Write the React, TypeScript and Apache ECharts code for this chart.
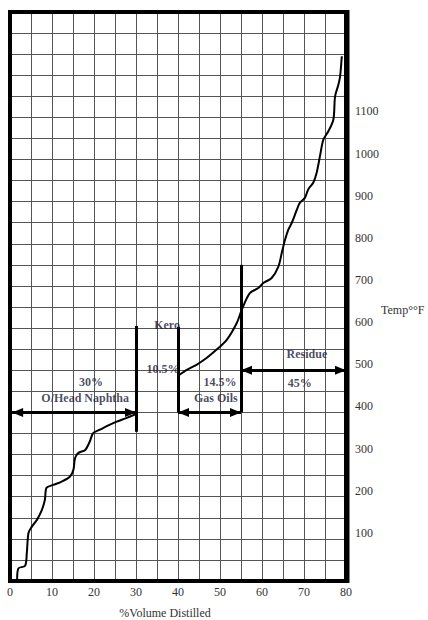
import React, { useEffect, useRef } from 'react';
import * as echarts from 'echarts';

// Distillation curve, naphtha part (x: % volume distilled, y: temperature °F)
const curve1X = [1.7, 2.0, 3.6, 4.0, 4.4, 5.2, 6.4, 7.6, 8.3, 8.7, 10.3, 12.3, 14.3, 15.1, 15.5, 16.3, 17.9, 19.0, 19.8, 21.4, 23.8, 25.4, 27.5, 30.0];
const curve1Y = [5, 30, 36, 66, 114, 129, 145, 169, 192, 221, 228, 236, 248, 264, 292, 304, 311, 331, 351, 359, 371, 378, 386, 396];
// Distillation curve, kero / gas oil / residue part
const curve2X = [40.3, 42.1, 44.4, 46.8, 49.2, 51.6, 54.0, 55.2, 57.1, 59.1, 60.3, 62.3, 63.9, 64.7, 65.5, 66.3, 67.1, 68.3, 69.0, 70.2, 71.0, 72.2, 73.0, 73.8, 74.6, 75.8, 77.0, 77.4, 78.2, 78.6, 79.0];
const curve2Y = [489, 501, 513, 529, 549, 572, 612, 644, 683, 695, 707, 719, 746, 778, 810, 834, 850, 881, 897, 909, 929, 945, 968, 1008, 1047, 1067, 1095, 1150, 1178, 1198, 1245];

// Cut lines (vertical)
const cutX = [30, 40, 55];
const cutYFrom = [354, 400, 400];
const cutYTo = [605, 603, 750];

// Double-headed range arrows
const arrowFromX = [0.5, 40, 55];
const arrowToX = [30, 55, 80];
const arrowY = [400, 400, 500];

// Annotation texts
const noteText = ['30%', 'O/Head Naphtha', 'Kero', '10.5%', '14.5%', 'Gas Oils', 'Residue', '45%'];
const noteX = [19.3, 17.9, 37.4, 36.4, 50.0, 49.0, 70.7, 69.0];
const noteY = [473, 435, 608, 503, 473, 435, 539, 470];

// Axis settings
const xMin = 0, xMax = 80, xStep = 5;
const yMin = 0, yMax = 1350, yStep = 50;
const yLabelMin = 100, yLabelMax = 1100;

const serif = 'Liberation Serif, Times New Roman, serif';

export default function App() {
  const ref = useRef<HTMLDivElement>(null);
  useEffect(() => {
    if (!ref.current) return;
    const chart = echarts.init(ref.current, undefined, { renderer: 'svg' });
    const option: any = {
      animation: false,
      grid: { left: 10, top: 12, right: 82, bottom: 39, show: false },
      xAxis: {
        type: 'value', min: xMin, max: xMax, interval: xStep,
        axisLine: { show: false }, axisTick: { show: false },
        splitLine: { show: true, lineStyle: { color: '#555', width: 1 } },
        axisLabel: {
          formatter: (v: number) => (v % 10 === 0 ? String(v) : ''),
          margin: 5, fontFamily: serif, fontSize: 12, color: '#333',
        },
      },
      yAxis: {
        type: 'value', position: 'right', min: yMin, max: yMax, interval: yStep,
        axisLine: { show: false }, axisTick: { show: false },
        splitLine: { show: true, lineStyle: { color: '#555', width: 1 } },
        axisLabel: {
          formatter: (v: number) => (v % 100 === 0 && v >= yLabelMin && v <= yLabelMax ? String(v) : ''),
          margin: 9, fontFamily: serif, fontSize: 12, color: '#333', verticalAlign: 'bottom',
        },
      },
      series: [
        {
          type: 'line', data: curve1X.map((x, i) => [x, curve1Y[i]]),
          showSymbol: false, smooth: 0.3, lineStyle: { color: '#000', width: 2 }, z: 5,
        },
        {
          type: 'line', data: curve2X.map((x, i) => [x, curve2Y[i]]),
          showSymbol: false, smooth: 0.3, lineStyle: { color: '#000', width: 2 }, z: 5,
        },
        {
          type: 'line', data: [], z: 6,
          markLine: {
            silent: true, animation: false,
            symbol: ['triangle', 'triangle'], symbolSize: [9, 11],
            symbolOffset: [[0, 5.5], [0, 5.5]],
            lineStyle: { color: '#000', width: 3, type: 'solid' },
            itemStyle: { color: '#000' },
            label: { show: false },
            emphasis: { disabled: true },
            data: [
              ...cutX.map((x, i) => [
                { coord: [x, cutYFrom[i]], symbol: 'none' },
                { coord: [x, cutYTo[i]], symbol: 'none' },
              ]),
              ...arrowFromX.map((x, i) => [
                { coord: [x, arrowY[i]] },
                { coord: [arrowToX[i], arrowY[i]] },
              ]),
            ],
          },
        },
        {
          type: 'scatter', z: 7, symbolSize: 1, itemStyle: { color: 'rgba(0,0,0,0)' },
          silent: true,
          data: noteText.map((t, i) => ({ name: t, value: [noteX[i], noteY[i]] })),
          label: {
            show: true, position: 'inside', formatter: '{b}',
            fontFamily: serif, fontWeight: 'bold', fontSize: 12, color: '#1b1b3b',
          },
        },
      ],
    };
    chart.setOption(option);
    const p0 = chart.convertToPixel({ gridIndex: 0 }, [xMin, yMin]) as number[];
    const p1 = chart.convertToPixel({ gridIndex: 0 }, [xMax, yMax]) as number[];
    chart.setOption({
      graphic: [
        {
          type: 'rect', silent: true, z: 100,
          shape: { x: p0[0], y: p1[1], width: p1[0] - p0[0], height: p0[1] - p1[1] },
          style: { fill: 'none', stroke: '#000', lineWidth: 4 },
        },
        {
          type: 'line', silent: true, z: 101,
          shape: { x1: p1[0] + 1, y1: p1[1] - 2, x2: p1[0] + 1, y2: p0[1] + 2 },
          style: { stroke: '#000', lineWidth: 5 },
        },
        {
          type: 'text', silent: true, z: 101, x: p1[0] + 35, y: 310,
          style: { text: 'Temp°°F', font: `12px ${serif}`, fill: '#333', align: 'left', verticalAlign: 'middle' },
        },
        {
          type: 'text', silent: true, z: 101, x: 165, y: p0[1] + 32,
          style: { text: '%Volume Distilled', font: `12px ${serif}`, fill: '#333', align: 'center', verticalAlign: 'middle' },
        },
      ],
    });
    return () => chart.dispose();
  }, []);
  return <div ref={ref} style={{ position: 'absolute', left: 0, top: 0, width: 428, height: 620 }} />;
}
